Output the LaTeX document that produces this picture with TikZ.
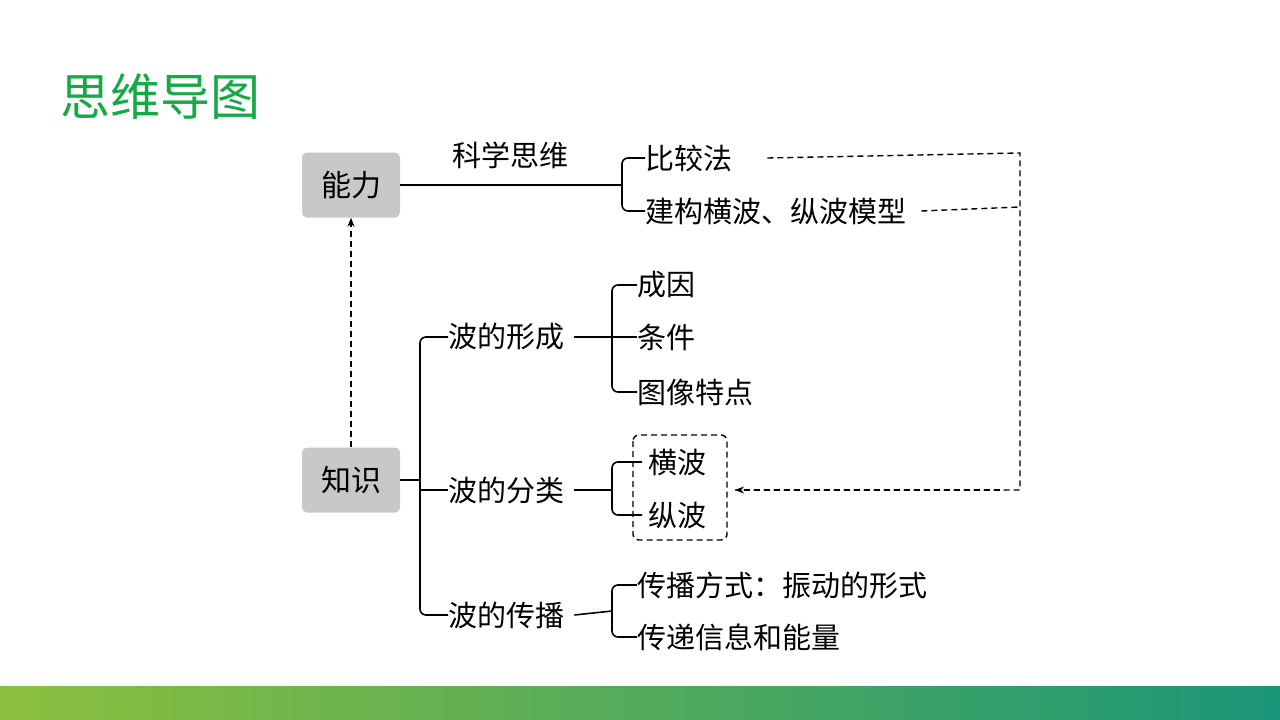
\documentclass[tikz,border=0pt]{standalone}
\usepackage{fontspec}
\setmainfont{Noto Sans CJK SC}
\usetikzlibrary{arrows.meta}
\definecolor{ttl}{RGB}{20,170,70}
\definecolor{gA}{RGB}{140,192,62}
\definecolor{gB}{RGB}{26,150,120}
\definecolor{boxg}{RGB}{200,200,200}
\begin{document}
\begin{tikzpicture}[x=1pt,y=-1pt,
  lbl/.style={font=\fontsize{29}{29}\selectfont, anchor=west, inner sep=0pt},
  gbox/.style={fill=boxg, rounded corners=5pt, minimum width=98pt, minimum height=65pt, font=\fontsize{30}{30}\selectfont},
  ln/.style={line width=1.6pt},
  dl/.style={line width=1.4pt, dash pattern=on 6pt off 4pt},
  brk/.style={line width=1.6pt, rounded corners=6pt}]
\useasboundingbox (0,0) rectangle (1280,720);
\shade[left color=gA, right color=gB] (0,686) rectangle (1280,720);
\node[anchor=west, text=ttl, font=\fontsize{50}{50}\selectfont, inner sep=0pt] (title) at (60,97) {思维导图};
\node[gbox] (neng) at (351,185) {能力};
\node[gbox] (zhi) at (351,480) {知识};
\draw[dl, -{Stealth[length=9pt,width=7pt]}] (zhi.north) -- (neng.south);
% ability
\node[font=\fontsize{29}{29}\selectfont, inner sep=0pt] (kx) at (510,155) {科学思维};
\node[lbl] (bj) at (645,158) {比较法};
\node[lbl] (jg) at (645,211) {建构横波、纵波模型};
\draw[ln] (neng.east) -- (622,185);
\draw[brk] (bj.west) -- (622,158) -- (622,211) -- (jg.west);
% knowledge
\node[lbl] (xc) at (448,337) {波的形成};
\node[lbl] (fl) at (448,490) {波的分类};
\node[lbl] (cb) at (448,615) {波的传播};
\draw[ln] (zhi.east) -- (420,480);
\draw[brk] (xc.west) -- (420,337) -- (420,615) -- (cb.west);
\draw[ln] (420,490) -- (fl.west);
% formation
\node[lbl] (cy) at (637,285) {成因};
\node[lbl] (tj) at (637,337) {条件};
\node[lbl] (tx) at (637,392) {图像特点};
\draw[ln] (xc.east)++(10,0) -- (tj.west);
\draw[brk] (cy.west) -- (612,285) -- (612,392) -- (tx.west);
% classification
\node[lbl] (hb) at (648,462) {横波};
\node[lbl] (zb) at (648,515) {纵波};
\draw[dl, rounded corners=6pt] (633,435) rectangle (727,540);
\coordinate (bx) at (727,490);
\draw[ln] (fl.east)++(10,0) -- (612,490);
\draw[brk] (hb.west)++(-6,0) -- (612,462) -- (612,515) -- ([xshift=-6pt]zb.west);
% propagation
\node[lbl] (fs) at (637,585) {传播方式：振动的形式};
\node[lbl] (xx) at (637,637) {传递信息和能量};
\draw[ln] (cb.east)++(10,0) -- (612,611);
\draw[brk] (fs.west) -- (612,585) -- (612,637) -- (xx.west);
% dashed feedback
\draw[dl] ([xshift=35pt]bj.east) -- (1020,153) -- (1020,490) -- ([xshift=8pt]bx) ;
\draw[dl, -{Stealth[length=9pt,width=7pt]}] (1000,490) -- ([xshift=8pt]bx);
\draw[dl] ([xshift=15pt]jg.east) -- (1020,207);
\end{tikzpicture}
\end{document}
